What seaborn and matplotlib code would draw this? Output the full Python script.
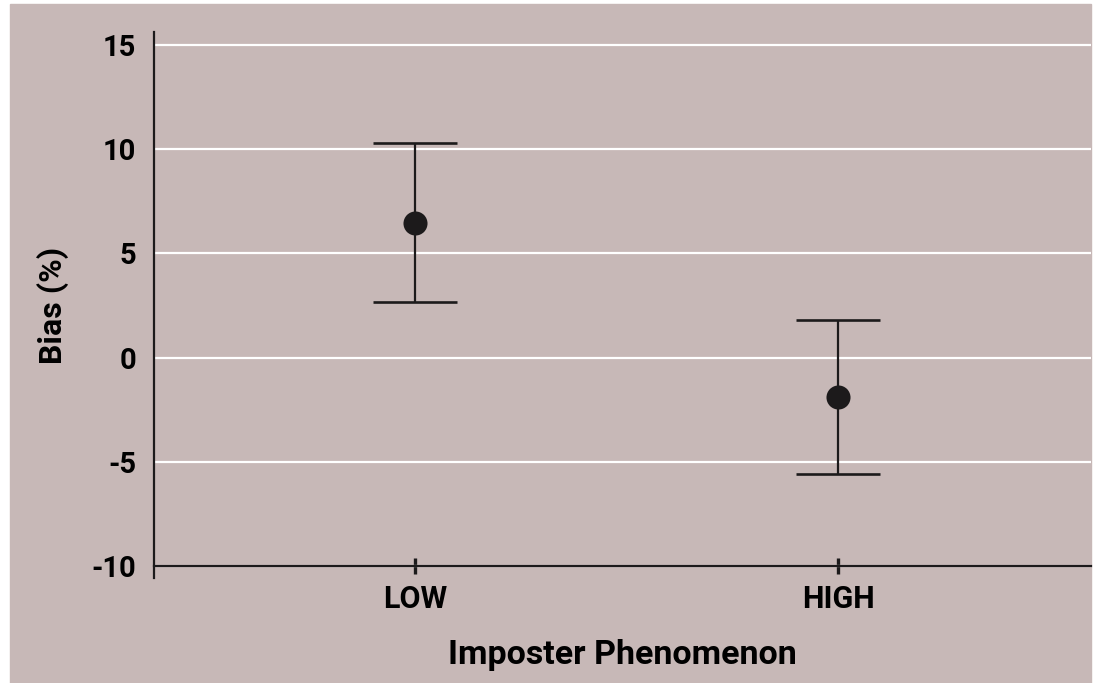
import matplotlib
matplotlib.use("Agg")
import matplotlib.pyplot as plt
from matplotlib.patches import Rectangle
import seaborn as sns
import pandas as pd

# Données
groupes = ["LOW", "HIGH"]
biais_moyen = [6.45, -1.9]
borne_haute = [10.3, 1.8]
borne_basse = [2.65, -5.6]

fond = "#c7b8b7"
encre = "#1c1a1b"

sns.set_theme(style="white")
plt.rcParams["font.family"] = ["Roboto", "DejaVu Sans"]

data = pd.DataFrame({"groupe": groupes, "biais": biais_moyen})

fig = plt.figure(figsize=(10.99, 6.83), dpi=100, facecolor="white")
# panneau de fond coloré (marge blanche autour)
fig.patches.append(Rectangle((10 / 1099, 0), 1081 / 1099, 679 / 683,
                             transform=fig.transFigure, color=fond, zorder=-10))
ax = fig.add_axes([154 / 1099, 105 / 683, 937 / 1099, 546 / 683])
ax.set_facecolor(fond)

# barres d'erreur
err_bas = [m - b for m, b in zip(biais_moyen, borne_basse)]
err_haut = [h - m for m, h in zip(biais_moyen, borne_haute)]
ax.errorbar(groupes, biais_moyen, yerr=[err_bas, err_haut], fmt="none",
            ecolor=encre, elinewidth=1.6, capsize=30, capthick=1.9, zorder=2)

# points moyens
sns.scatterplot(data=data, x="groupe", y="biais", s=300, color=encre,
                edgecolor=encre, linewidth=0, ax=ax, zorder=3)

ax.set_xlim(-0.617, 1.598)
ax.set_ylim(-10.58, 15.62)
ax.set_yticks([-10, -5, 0, 5, 10, 15])
ax.set_yticklabels(["-10", "-5", "0", "5", "10", "15"])

ax.grid(axis="y", color="white", linewidth=1.6)
ax.grid(axis="x", visible=False)
ax.set_axisbelow(True)

for side in ["top", "right"]:
    ax.spines[side].set_visible(False)
ax.spines["bottom"].set_position(("data", -10))
for side in ["left", "bottom"]:
    ax.spines[side].set_color(encre)
    ax.spines[side].set_linewidth(1.6)

ax.tick_params(axis="y", length=0, pad=13, labelsize=21, labelcolor="black")
ax.tick_params(axis="x", bottom=True, direction="inout", length=12, width=2.4,
               color=encre, pad=7, labelsize=22, labelcolor="black")
for lab in ax.get_xticklabels() + ax.get_yticklabels():
    lab.set_fontweight("bold")

ax.set_xlabel("Imposter Phenomenon", fontsize=24.5, fontweight="bold",
              color="black", labelpad=18)
ax.set_ylabel("Bias (%)", fontsize=23, fontweight="bold", color="black",
              labelpad=16)

fig.savefig("out.png", dpi=100, facecolor="white")
